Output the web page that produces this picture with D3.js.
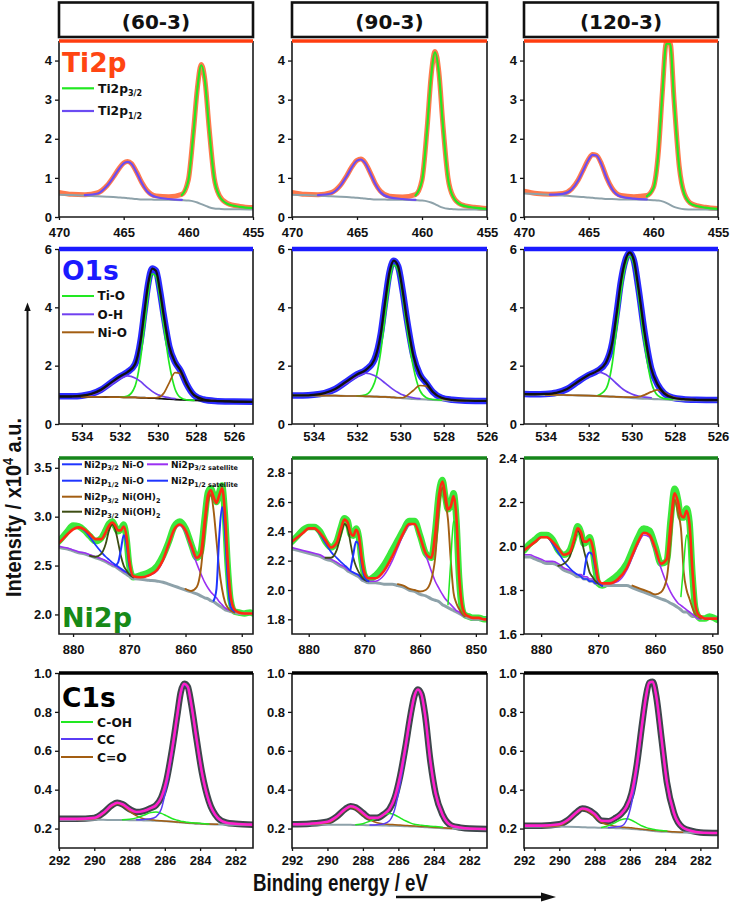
<!DOCTYPE html>
<html><head><meta charset="utf-8">
<script src="https://cdn.jsdelivr.net/npm/d3@7"></script>
<style>body{margin:0;background:#fff}svg{display:block}</style>
</head><body>
<script>
const N = n => Array(n).fill(null);
// ---------- sample names ----------
const SAMPLES = ['(60-3)', '(90-3)', '(120-3)'];
// ---------- axis ranges & ticks ----------
const TI_XRANGE = [470, 455], TI_YRANGE = [0, 4.5];
const TI_XTICKS = [470, 465, 460, 455], TI_YTICKS = [0, 1, 2, 3, 4];
const O60_XRANGE = [535.2, 525], O_XRANGE = [535, 526], O_YRANGE = [0, 6];
const O_XTICKS = [534, 532, 530, 528, 526], O_YTICKS = [0, 2, 4, 6];
const NI60_XRANGE = [882.5, 848], NI90_XRANGE = [883, 848], NI120_XRANGE = [883, 849];
const NI60_YRANGE = [1.8, 3.6], NI90_YRANGE = [1.7, 2.9], NI120_YRANGE = [1.6, 2.4];
const NI_XTICKS = [880, 870, 860, 850];
const NI60_YTICKS = [2.0, 2.5, 3.0, 3.5], NI90_YTICKS = [1.8, 2.0, 2.2, 2.4, 2.6, 2.8], NI120_YTICKS = [1.6, 1.8, 2.0, 2.2, 2.4];
const C_XRANGE = [292, 281], C_YRANGE = [0.1, 1.0];
const C_XTICKS = [292, 290, 288, 286, 284, 282], C_YTICKS = [0.2, 0.4, 0.6, 0.8, 1.0];

// ---------- Ti2p ----------
const TI_E = [470, 469, 468, 467, 466.3, 465.8, 465.4, 465.0, 464.7, 464.4, 464.0, 463.6, 463.2, 462.5, 461.5, 460.5, 460.0, 459.6, 459.3, 459.0, 458.7, 458.4, 458.0, 457.6, 457.0, 456.0, 455.0];
const TI60_DATA = [0.63,0.58,0.57,0.62,0.80,1.02,1.22,1.38,1.42,1.37,1.15,0.88,0.68,0.54,0.52,0.58,0.95,2.2,3.3,3.9,3.45,2.3,1.0,0.55,0.35,0.27,0.24];
const TI60_BG = [0.57,0.56,0.55,0.53,0.52,0.51,0.50,0.49,0.48,0.47,0.46,0.45,0.45,0.44,0.44,0.43,0.42,0.40,0.37,0.33,0.29,0.25,0.22,0.21,0.20,0.20,0.19];
const TI60_P12 = [null,null,0.56,0.60,0.79,1.01,1.21,1.37,1.41,1.36,1.14,0.87,0.66,0.51,0.46,0.44,...N(11)];
const TI60_P32 = [...N(15),0.56,0.93,2.18,3.28,3.88,3.43,2.28,0.99,0.54,0.34,0.26,0.23];
const TI90_DATA = [0.63,0.58,0.57,0.62,0.80,1.05,1.28,1.45,1.48,1.40,1.15,0.86,0.66,0.53,0.51,0.57,0.95,2.3,3.6,4.23,3.7,2.4,1.0,0.52,0.32,0.25,0.22];
const TI90_BG = [0.57,0.56,0.55,0.53,0.52,0.51,0.50,0.49,0.48,0.47,0.46,0.45,0.45,0.44,0.44,0.43,0.42,0.40,0.37,0.33,0.28,0.24,0.21,0.20,0.19,0.19,0.18];
const TI90_P12 = [null,null,0.56,0.60,0.79,1.04,1.27,1.44,1.47,1.39,1.14,0.85,0.64,0.50,0.46,0.44,...N(11)];
const TI90_P32 = [...N(15),0.55,0.93,2.28,3.58,4.21,3.68,2.38,0.99,0.51,0.31,0.24,0.21];
const TI120_DATA = [0.66,0.60,0.58,0.60,0.72,0.95,1.22,1.48,1.60,1.58,1.35,1.0,0.74,0.55,0.52,0.55,0.75,1.7,3.2,4.45,4.45,3.0,1.3,0.6,0.33,0.25,0.22];
const TI120_BG = [0.60,0.59,0.57,0.55,0.53,0.52,0.51,0.50,0.49,0.48,0.47,0.46,0.46,0.45,0.45,0.44,0.43,0.42,0.40,0.36,0.31,0.26,0.22,0.20,0.19,0.19,0.18];
const TI120_P12 = [null,null,0.57,0.59,0.71,0.94,1.21,1.47,1.59,1.57,1.34,0.99,0.72,0.52,0.47,0.45,...N(11)];
const TI120_P32 = [...N(15),0.53,0.73,1.68,3.18,4.43,4.43,2.98,1.28,0.58,0.32,0.24,0.21];

// ---------- O1s ----------
const O_E = [535.2, 534.5, 534, 533.5, 533, 532.5, 532, 531.6, 531.2, 530.9, 530.7, 530.5, 530.3, 530.1, 529.9, 529.7, 529.4, 529.1, 528.8, 528.5, 528.1, 527.6, 527, 526, 525];
const O60_DATA = [0.95,0.95,0.97,1.03,1.17,1.4,1.63,1.78,2.05,2.9,3.9,4.85,5.33,5.25,4.6,3.75,2.65,2.12,1.82,1.38,0.99,0.84,0.79,0.77,0.76];
const O60_BG = [0.94,0.94,0.93,0.93,0.93,0.92,0.92,0.91,0.91,0.9,0.9,0.89,0.89,0.88,0.87,0.86,0.85,0.84,0.83,0.82,0.81,0.8,0.79,0.77,0.76];
const O60_TIO = [...N(6),0.92,0.96,1.3,2.3,3.4,4.5,5.15,5.05,4.35,3.4,2.05,1.2,0.9,0.83,0.81,...N(4)];
const O60_OH = [null,0.94,0.95,1.0,1.12,1.33,1.55,1.65,1.58,1.45,1.33,1.22,1.12,1.04,0.98,0.94,0.9,0.87,...N(7)];
const O60_NIO = [null,null,0.93,0.93,0.93,0.92,0.92,0.91,0.91,0.9,0.9,0.9,0.9,0.9,0.93,1.05,1.42,1.76,1.72,1.35,0.98,0.84,0.8,null,null];
const O90_DATA = [0.98,0.98,1.0,1.06,1.2,1.45,1.7,1.85,2.2,3.1,4.2,5.2,5.6,5.4,4.6,3.6,2.35,1.7,1.4,1.1,0.9,0.83,0.8,0.79,0.78];
const O90_BG = [0.98,0.98,0.98,0.97,0.97,0.96,0.96,0.95,0.94,0.93,0.93,0.92,0.91,0.9,0.89,0.88,0.86,0.85,0.84,0.83,0.82,0.81,0.8,0.79,0.78];
const O90_TIO = [...N(6),0.96,1.0,1.4,2.5,3.7,4.85,5.45,5.25,4.4,3.3,1.95,1.15,0.9,0.84,0.82,...N(4)];
const O90_OH = [null,0.98,0.99,1.04,1.17,1.4,1.62,1.74,1.66,1.52,1.4,1.28,1.17,1.08,1.0,0.95,0.9,0.87,...N(7)];
const O90_NIO = [null,null,0.98,0.97,0.97,0.96,0.96,0.95,0.94,0.93,0.93,0.92,0.91,0.9,0.9,0.97,1.15,1.32,1.3,1.1,0.88,0.82,0.8,null,null];
const O120_DATA = [1.03,1.02,1.03,1.07,1.2,1.45,1.68,1.82,2.1,2.8,3.8,4.9,5.6,5.88,5.6,4.7,3.1,1.9,1.35,1.05,0.9,0.85,0.83,0.82,0.81];
const O120_BG = [1.02,1.01,1.0,1.0,0.99,0.98,0.97,0.96,0.95,0.94,0.93,0.92,0.91,0.9,0.89,0.88,0.87,0.86,0.85,0.84,0.83,0.82,0.82,0.81,0.8];
const O120_TIO = [...N(7),0.97,1.2,2.1,3.3,4.5,5.4,5.75,5.45,4.45,2.7,1.45,0.98,0.87,0.84,...N(4)];
const O120_OH = [null,1.01,1.03,1.07,1.19,1.42,1.65,1.79,1.7,1.52,1.38,1.25,1.14,1.06,1.0,0.96,0.92,0.9,...N(7)];
const O120_NIO = [null,null,1.0,1.0,0.99,0.98,0.97,0.96,0.95,0.94,0.93,0.93,0.92,0.92,0.92,0.93,1.0,1.1,1.17,1.08,0.92,0.85,0.83,null,null];

// ---------- Ni2p ----------
const NI_E = [883,882,881,880,879, 878,877,876,875,874.2, 873.6,873,872.5,872,871.5, 871,870.5,870,869.3,868, 866.5,865,864,863,862, 861,860,859,858,857.3, 856.6,856,855.5,855,854.5, 854,853.5,853,852.5,852, 851.3,850.5,849.5,848.5,848];
const N60_DATA = [2.72,2.78,2.85,2.91,2.90, 2.86,2.80,2.75,2.78,2.86, 2.93,2.95,2.90,2.85,2.87, 2.92,2.78,2.50,2.38,2.40, 2.43,2.50,2.60,2.74,2.90, 2.95,2.88,2.72,2.58,2.64, 2.98,3.25,3.29,3.22,3.15, 3.25,3.32,3.02,2.50,2.15, 2.03,2.02,2.01,2.02,2.01];
const N60_FIT = [2.71,2.76,2.82,2.87,2.89, 2.87,2.82,2.77,2.77,2.84, 2.91,2.94,2.91,2.86,2.86, 2.90,2.80,2.55,2.39,2.38, 2.40,2.46,2.56,2.72,2.87, 2.92,2.86,2.71,2.58,2.62, 2.95,3.22,3.27,3.20,3.14, 3.22,3.29,3.05,2.55,2.20, 2.05,2.02,2.01,2.01,2.01];
const N60_BG = [2.70,2.68,2.67,2.65,2.63, 2.62,2.60,2.58,2.56,2.54, 2.52,2.50,2.49,2.47,2.45, 2.43,2.41,2.39,2.37,2.36, 2.35,2.34,2.33,2.31,2.29, 2.27,2.25,2.23,2.21,2.19, 2.17,2.16,2.14,2.13,2.11, 2.09,2.07,2.05,2.04,2.03, 2.02,2.01,2.01,2.01,2.01];
const N60_SAT32 = [2.71,2.69,2.68,2.66,2.64, 2.63,2.61,2.59,2.57,2.55, 2.53,2.51,2.50,2.48,2.46, 2.44,2.43,2.41,2.39,2.38, 2.40,2.45,2.55,2.71,2.86, 2.91,2.84,2.68,2.52,2.42, 2.33,2.27,2.23,2.20,2.17, 2.13,2.10,2.07,2.05,2.04, ...N(5)];
const N60_SAT12 = [2.71,2.76,2.82,2.87,2.89, 2.86,2.79,2.71,2.64,2.59, 2.56,2.53,2.51,2.49,2.47, 2.45,2.43,2.41,2.38, ...N(26)];
const N60_OH12 = [...N(6), 2.60,2.59,2.62,2.72, 2.86,2.92,2.87,2.74,2.60, 2.50,2.45,2.41,2.38, ...N(26)];
const N60_NIO12 = [...N(12), 2.50,2.53,2.66, 2.81,2.72,2.50,2.39, ...N(26)];
const N60_OH32 = [...N(26), 2.26,2.24,2.28,2.45, 2.85,3.15,3.23,3.06,2.76, 2.46,2.26,2.13,2.07,2.04, 2.02, ...N(4)];
const N60_NIO32 = [...N(33), 2.14,2.26, 2.80,3.10,2.86,2.36,2.08, 2.03, ...N(4)];
const N90_DATA = [2.33,2.37,2.41,2.43,2.43, 2.40,2.33,2.29,2.33,2.43, 2.49,2.47,2.38,2.37,2.42, 2.36,2.20,2.10,2.07,2.10, 2.17,2.27,2.34,2.41,2.47, 2.47,2.37,2.25,2.22,2.40, 2.67,2.75,2.64,2.55,2.58, 2.66,2.48,2.08,1.88,1.83, 1.82,1.81,1.81,1.80,1.80];
const N90_FIT = [2.33,2.36,2.39,2.42,2.42, 2.39,2.34,2.29,2.32,2.42, 2.48,2.46,2.39,2.37,2.41, 2.37,2.22,2.12,2.08,2.08, 2.13,2.23,2.31,2.39,2.45, 2.45,2.36,2.25,2.22,2.38, 2.65,2.74,2.65,2.55,2.57, 2.64,2.50,2.10,1.90,1.84, 1.82,1.81,1.81,1.80,1.80];
const N90_BG = [2.28,2.27,2.26,2.25,2.24, 2.23,2.21,2.20,2.18,2.16, 2.15,2.13,2.12,2.11,2.10, 2.09,2.07,2.06,2.05,2.05, 2.04,2.04,2.03,2.02,2.00, 1.99,1.97,1.96,1.94,1.93, 1.92,1.90,1.89,1.88,1.87, 1.86,1.85,1.84,1.83,1.82, 1.81,1.80,1.80,1.80,1.80];
const N90_SAT32 = [2.29,2.28,2.27,2.26,2.25, 2.24,2.22,2.21,2.19,2.17, 2.16,2.14,2.13,2.12,2.11, 2.10,2.08,2.07,2.06,2.06, 2.10,2.20,2.29,2.38,2.44, 2.45,2.36,2.24,2.13,2.06, 2.01,1.97,1.94,1.92,1.90, 1.88,1.86,1.85,1.83,1.82, ...N(5)];
const N90_SAT12 = [2.33,2.36,2.39,2.42,2.42, 2.38,2.32,2.26,2.22,2.19, 2.17,2.15,2.13,2.12,2.11, 2.10,2.08,2.07,2.06, ...N(26)];
const N90_OH12 = [...N(6), 2.22,2.22,2.27,2.38, 2.45,2.42,2.32,2.22,2.16, 2.12,2.09,2.07,2.06, ...N(26)];
const N90_NIO12 = [...N(12), 2.14,2.24,2.33, 2.31,2.18,2.09,2.06, ...N(26)];
const N90_OH32 = [...N(22), 2.04,2.03,2.01, 2.00,1.99,2.00,2.07,2.22, 2.56,2.70,2.60,2.48,2.20, 1.98,1.91,1.87,1.84,1.82, ...N(5)];
const N90_NIO32 = [...N(33), 1.90,2.20, 2.47,2.40,2.05,1.87,1.83, ...N(5)];
const N120_DATA = [1.98,2.01,2.03,2.05,2.05, 2.03,1.98,1.96,1.98,2.04, 2.09,2.06,2.01,2.02,2.04, 1.99,1.90,1.83,1.82,1.84, 1.87,1.92,1.98,2.04,2.08, 2.07,2.00,1.92,1.93,2.12, 2.26,2.21,2.13,2.13,2.17, 2.11,1.88,1.72,1.68,1.67, 1.67,1.68,1.67,1.66,1.67];
const N120_FIT = [1.98,2.00,2.02,2.04,2.04, 2.02,1.99,1.96,1.97,2.03, 2.08,2.06,2.02,2.02,2.03, 2.00,1.92,1.85,1.83,1.83, 1.85,1.90,1.96,2.02,2.06, 2.05,1.99,1.92,1.94,2.10, 2.24,2.20,2.14,2.13,2.16, 2.10,1.90,1.74,1.69,1.68, 1.67,1.67,1.67,1.67,1.67];
const N120_BG = [1.95,1.95,1.94,1.93,1.92, 1.92,1.91,1.89,1.88,1.87, 1.86,1.86,1.85,1.85,1.84, 1.84,1.83,1.83,1.82,1.82, 1.82,1.82,1.81,1.80,1.79, 1.78,1.77,1.76,1.75,1.74, 1.73,1.72,1.71,1.70,1.70, 1.69,1.68,1.68,1.67,1.67, 1.67,1.67,1.67,1.67,1.67];
const N120_SAT32 = [1.96,1.96,1.95,1.94,1.93, 1.93,1.92,1.90,1.89,1.88, 1.87,1.87,1.86,1.86,1.85, 1.85,1.84,1.84,1.83,1.83, 1.84,1.89,1.95,2.01,2.05, 2.04,1.98,1.90,1.83,1.79, 1.76,1.74,1.73,1.72,1.71, 1.70,1.69,1.68,1.67,1.67, ...N(5)];
const N120_SAT12 = [1.98,2.00,2.02,2.04,2.04, 2.01,1.97,1.93,1.90,1.88, 1.87,1.86,1.85,1.85,1.84, 1.84,1.83,1.83,1.82, ...N(26)];
const N120_OH12 = [...N(6), 1.91,1.92,1.95,2.02, 2.07,2.04,1.98,1.93,1.88, 1.86,1.84,1.83,1.82, ...N(26)];
const N120_NIO12 = [...N(12), 1.87,1.95,1.97, 1.96,1.90,1.84,1.82, ...N(26)];
const N120_OH32 = [...N(22), 1.82,1.81,1.80, 1.79,1.78,1.79,1.85,2.02, 2.21,2.15,2.08,1.88,1.80, 1.76,1.72,1.69,1.68,1.67, ...N(5)];
const N120_NIO32 = [...N(32), 1.77,1.92,2.05, 2.00,1.85,1.72,1.68, ...N(6)];

// ---------- C1s ----------
const C_E = [292, 291, 290, 289.5, 289, 288.7, 288.4, 288, 287.6, 287.2, 286.8, 286.5, 286.2, 285.9, 285.6, 285.3, 285.1, 284.9, 284.7, 284.5, 284.2, 283.9, 283.5, 283, 282.5, 282, 281];
const C60_DATA = [0.25,0.25,0.255,0.28,0.32,0.333,0.325,0.30,0.285,0.29,0.305,0.32,0.36,0.45,0.6,0.78,0.9,0.945,0.93,0.84,0.66,0.49,0.34,0.255,0.23,0.225,0.22];
const C60_BG = [0.245,0.245,0.245,0.245,0.244,0.244,0.244,0.243,0.243,0.242,0.241,0.24,0.239,0.237,0.235,0.233,0.231,0.23,0.228,0.227,0.225,0.224,0.222,0.221,0.22,0.22,0.22];
const C60_CO = [null,0.246,0.25,0.275,0.315,0.328,0.32,0.29,0.265,0.25,0.245,0.242,0.24,0.238,0.236,0.234,0.232,0.231,0.229,0.228,0.226,0.225,0.223,0.222,null,null,null];
const C60_COH = [...N(6),0.245,0.248,0.255,0.268,0.282,0.285,0.278,0.265,0.252,0.243,0.238,0.235,0.232,0.23,0.228,0.226,0.224,...N(4)];
const C60_CC = [...N(8),0.245,0.247,0.25,0.26,0.3,0.42,0.58,0.77,0.89,0.94,0.925,0.835,0.655,0.485,0.335,0.252,0.228,0.223,null];
const C90_DATA = [0.222,0.225,0.235,0.26,0.3,0.315,0.308,0.28,0.255,0.255,0.275,0.3,0.36,0.47,0.62,0.79,0.88,0.915,0.89,0.79,0.55,0.38,0.27,0.215,0.205,0.2,0.198];
const C90_BG = [0.222,0.221,0.22,0.22,0.219,0.219,0.218,0.218,0.217,0.217,0.216,0.215,0.214,0.213,0.212,0.211,0.21,0.209,0.208,0.207,0.205,0.204,0.202,0.2,0.199,0.198,0.197];
const C90_CO = [null,0.222,0.228,0.255,0.295,0.31,0.3,0.27,0.245,0.23,0.224,0.221,0.22,0.218,0.216,0.214,0.213,0.212,0.211,0.21,0.208,0.206,0.204,0.2,null,null,null];
const C90_COH = [...N(6),0.22,0.225,0.238,0.255,0.272,0.278,0.27,0.255,0.24,0.228,0.222,0.219,0.217,0.215,0.212,0.21,0.207,...N(4)];
const C90_CC = [...N(8),0.218,0.22,0.225,0.24,0.3,0.43,0.6,0.78,0.875,0.912,0.888,0.788,0.548,0.378,0.268,0.214,0.204,0.2,null];
const C120_DATA = [0.215,0.215,0.222,0.245,0.285,0.303,0.298,0.275,0.24,0.238,0.255,0.275,0.31,0.38,0.53,0.74,0.87,0.95,0.955,0.88,0.66,0.44,0.28,0.205,0.188,0.18,0.177];
const C120_BG = [0.21,0.21,0.21,0.209,0.208,0.207,0.206,0.205,0.204,0.203,0.202,0.201,0.2,0.198,0.196,0.194,0.192,0.19,0.188,0.186,0.184,0.183,0.181,0.18,0.179,0.178,0.177];
const C120_CO = [null,0.21,0.215,0.24,0.28,0.298,0.29,0.262,0.232,0.218,0.212,0.208,0.206,0.204,0.2,0.197,0.195,0.193,0.191,0.19,0.188,0.186,0.183,0.181,null,null,null];
const C120_COH = [...N(8),0.206,0.215,0.232,0.245,0.25,0.243,0.228,0.213,0.206,0.2,0.196,0.193,0.19,0.188,...N(5)];
const C120_CC = [...N(9),0.205,0.208,0.212,0.24,0.33,0.5,0.73,0.865,0.947,0.952,0.878,0.658,0.438,0.278,0.204,0.187,0.18,null];

// ================= drawing =================
const W = 730, H = 902;
const svg = d3.select('body').append('svg').attr('width', W).attr('height', H);
const defs = svg.append('defs');
const TICKFONT = "'Liberation Sans', Arial, sans-serif";
const TFONT = "'DejaVu Sans', Verdana, sans-serif";
const COLS = [{x0: 59, x1: 253}, {x0: 292, x1: 487}, {x0: 524, x1: 718}];
const ROWS = {
  ti: {top: 41, bottom: 217, pad: 7.3, topColor: '#ff3d0f', topW: 3.4},
  o:  {top: 249, bottom: 424, pad: 4.8, topColor: '#1a1aff', topW: 4.6},
  ni: {top: 458, bottom: 634, pad: 7.3, topColor: '#15861a', topW: 3.4},
  c:  {top: 673, bottom: 848, pad: 4.8, topColor: '#000000', topW: 3.4}
};
const COL = {
  tiData: '#ff6a38', bg: '#8ea2aa', green: '#22e822', tiPurple: '#6b4cf2',
  oData: '#2a2aff', fitK: '#111111', ohPurple: '#7040f0', brown: '#a35e12',
  niData: '#3be83b', niFit: '#ff2a12', sat32: '#9b30f2', blue: '#1f35ff', olive: '#3d4d14',
  cData: '#3e474c', cFit: '#ff20cc', ccPurple: '#5a3cf5'
};
let clipN = 0;
function panel(col, row, E, xDom, yDom, xTicks, yTicks, yFmt, series) {
  const r = ROWS[row];
  const x = d3.scaleLinear().domain(xDom).range([col.x0, col.x1]);
  const y = d3.scaleLinear().domain(yDom).range([r.bottom, r.top]);
  const id = 'clp' + (clipN++);
  defs.append('clipPath').attr('id', id).append('rect')
    .attr('x', col.x0).attr('y', r.top).attr('width', col.x1 - col.x0).attr('height', r.bottom - r.top);
  const g = svg.append('g');
  const pg = g.append('g').attr('clip-path', `url(#${id})`);
  const line = d3.line().defined(d => d[1] != null).x(d => x(d[0])).y(d => y(d[1])).curve(d3.curveMonotoneX);
  series.forEach(s => {
    pg.append('path').attr('d', line(E.map((e, i) => [e, s.v[i]])))
      .attr('fill', 'none').attr('stroke', s.c).attr('stroke-width', s.w)
      .attr('stroke-linejoin', 'round').attr('stroke-linecap', 'round').attr('opacity', s.o || 1);
  });
  const ya = g.append('g').attr('transform', `translate(${col.x0},0)`)
    .call(d3.axisLeft(y).tickValues(yTicks).tickSize(4).tickPadding(3).tickFormat(yFmt));
  const xa = g.append('g').attr('transform', `translate(0,${r.bottom})`)
    .call(d3.axisBottom(x).tickValues(xTicks).tickSize(3).tickPadding(r.pad).tickFormat(d3.format('d')));
  [ya, xa].forEach(a => {
    a.select('.domain').remove();
    a.selectAll('line').attr('stroke', '#111').attr('stroke-width', 1.3);
    a.selectAll('text').attr('font-family', TICKFONT).attr('font-size', 13).attr('font-weight', 'bold').attr('fill', '#111');
  });
  g.append('path').attr('d', `M${col.x0},${r.top}V${r.bottom}H${col.x1}V${r.top}`)
    .attr('fill', 'none').attr('stroke', '#1a1a1a').attr('stroke-width', 1.6);
  g.append('line').attr('x1', col.x0).attr('x2', col.x1).attr('y1', r.top).attr('y2', r.top)
    .attr('stroke', r.topColor).attr('stroke-width', r.topW);
}

// header boxes
SAMPLES.forEach((s, i) => {
  const c = COLS[i];
  svg.append('rect').attr('x', c.x0).attr('y', 2.5).attr('width', c.x1 - c.x0).attr('height', 34.5)
    .attr('fill', '#fff').attr('stroke', '#111').attr('stroke-width', 2.6);
  svg.append('text').attr('x', (c.x0 + c.x1) / 2).attr('y', 29).attr('text-anchor', 'middle')
    .attr('font-family', TFONT).attr('font-weight', 'bold').attr('font-size', 20).attr('fill', '#111').text(s);
});

const f0 = d3.format('d'), f1 = d3.format('.1f');
// Ti2p row
const tiSets = [[TI60_DATA, TI60_BG, TI60_P12, TI60_P32], [TI90_DATA, TI90_BG, TI90_P12, TI90_P32], [TI120_DATA, TI120_BG, TI120_P12, TI120_P32]];
tiSets.forEach((s, i) => panel(COLS[i], 'ti', TI_E, TI_XRANGE, TI_YRANGE, TI_XTICKS, TI_YTICKS, f0, [
  {v: s[0], c: COL.tiData, w: 5, o: 0.9}, {v: s[1], c: COL.bg, w: 2}, {v: s[2], c: COL.tiPurple, w: 2.2}, {v: s[3], c: COL.green, w: 2.2}]));
// O1s row
const oSets = [[O60_DATA, O60_BG, O60_TIO, O60_OH, O60_NIO], [O90_DATA, O90_BG, O90_TIO, O90_OH, O90_NIO], [O120_DATA, O120_BG, O120_TIO, O120_OH, O120_NIO]];
const oX = [O60_XRANGE, O_XRANGE, O_XRANGE];
oSets.forEach((s, i) => panel(COLS[i], 'o', O_E, oX[i], O_YRANGE, O_XTICKS, O_YTICKS, f0, [
  {v: s[0], c: COL.oData, w: 6.5}, {v: s[1], c: i === 0 ? COL.fitK : COL.bg, w: i === 0 ? 1.8 : 2.2},
  {v: s[2], c: COL.green, w: 1.7}, {v: s[3], c: COL.ohPurple, w: 1.7}, {v: s[4], c: COL.brown, w: 1.7},
  {v: s[0], c: COL.fitK, w: 2.3}]));
// Ni2p row
const niSets = [
  [N60_DATA, N60_BG, N60_SAT32, N60_SAT12, N60_OH12, N60_NIO12, N60_OH32, N60_NIO32, N60_FIT],
  [N90_DATA, N90_BG, N90_SAT32, N90_SAT12, N90_OH12, N90_NIO12, N90_OH32, N90_NIO32, N90_FIT],
  [N120_DATA, N120_BG, N120_SAT32, N120_SAT12, N120_OH12, N120_NIO12, N120_OH32, N120_NIO32, N120_FIT]];
const niX = [NI60_XRANGE, NI90_XRANGE, NI120_XRANGE], niY = [NI60_YRANGE, NI90_YRANGE, NI120_YRANGE];
const niYT = [NI60_YTICKS, NI90_YTICKS, NI120_YTICKS];
niSets.forEach((s, i) => panel(COLS[i], 'ni', NI_E, niX[i], niY[i], NI_XTICKS, niYT[i], f1, [
  {v: s[0], c: COL.niData, w: 6.5}, {v: s[1], c: COL.bg, w: 3}, {v: s[2], c: COL.sat32, w: 1.6},
  {v: s[3], c: COL.blue, w: 1.7}, {v: s[4], c: COL.olive, w: 1.8}, {v: s[5], c: COL.blue, w: 2},
  {v: s[6], c: COL.brown, w: 1.9}, {v: s[7], c: i === 0 ? COL.blue : COL.green, w: i === 0 ? 2 : 1.5},
  {v: s[8], c: COL.niFit, w: 2.6}]));
// C1s row
const cSets = [[C60_DATA, C60_BG, C60_CO, C60_COH, C60_CC], [C90_DATA, C90_BG, C90_CO, C90_COH, C90_CC], [C120_DATA, C120_BG, C120_CO, C120_COH, C120_CC]];
cSets.forEach((s, i) => panel(COLS[i], 'c', C_E, C_XRANGE, C_YRANGE, C_XTICKS, C_YTICKS, f1, [
  {v: s[0], c: COL.cData, w: 6.5}, {v: s[1], c: COL.bg, w: 2}, {v: s[2], c: COL.brown, w: 1.5},
  {v: s[3], c: COL.green, w: 1.5}, {v: s[4], c: COL.ccPurple, w: 1.5}, {v: s[0], c: COL.cFit, w: 2.6}]));

// ---------- titles and legends ----------
function title(x, y, txt, color, size) {
  svg.append('text').attr('x', x).attr('y', y).attr('font-family', TFONT).attr('font-weight', 'bold')
    .attr('font-size', size).attr('fill', color).text(txt);
}
function rich(x, y, parts, size, sub, fill) {
  const t = svg.append('text').attr('x', x).attr('y', y).attr('font-family', TFONT).attr('font-weight', 'bold')
    .attr('font-size', size).attr('fill', fill).style('white-space', 'pre');
  let cur = 0;
  parts.forEach(([txt, k]) => {
    const off = k === 's' ? size * 0.3 : 0;
    t.append('tspan').attr('dy', off - cur).attr('font-size', k === 's' ? sub : size).text(txt);
    cur = off;
  });
}
function legLine(x1, x2, y, color, w) {
  svg.append('line').attr('x1', x1).attr('x2', x2).attr('y1', y).attr('y2', y).attr('stroke', color).attr('stroke-width', w || 2);
}
title(62, 71.5, 'Ti2p', '#ff4512', 26.5);
legLine(62, 94, 88.3, COL.green, 2.2); rich(98, 92.5, [['Ti2p', 'n'], ['3/2', 's']], 12.3, 8, '#111');
legLine(62, 94, 111, COL.tiPurple, 2.2); rich(98, 115.2, [['Ti2p', 'n'], ['1/2', 's']], 12.3, 8, '#111');

title(62, 280, 'O1s', '#1a1aff', 26.5);
[['Ti-O', COL.green, 296], ['O-H', COL.ohPurple, 314.3], ['Ni-O', COL.brown, 332.3]].forEach(([t, c, yy]) => {
  legLine(62, 94, yy, c, 2); rich(97.5, yy + 4.3, [[t, 'n']], 12, 8, '#111');
});

title(62, 627, 'Ni2p', '#178a17', 27);
const niLeg = [
  [62, 82, 84, 464.3, COL.blue, [['Ni2p', 'n'], ['3/2', 's'], [' Ni-O', 'n']]],
  [62, 82, 84, 480.7, COL.blue, [['Ni2p', 'n'], ['1/2', 's'], [' Ni-O', 'n']]],
  [62, 82, 84, 496.7, COL.brown, [['Ni2p', 'n'], ['3/2', 's'], [' Ni(OH)', 'n'], ['2', 's']]],
  [62, 82, 84, 511.7, COL.olive, [['Ni2p', 'n'], ['3/2', 's'], [' Ni(OH)', 'n'], ['2', 's']]],
  [147, 168, 171, 464.3, COL.sat32, [['Ni2p', 'n'], ['3/2', 's'], [' satellite', 's']]],
  [147, 168, 171, 480.7, COL.blue, [['Ni2p', 'n'], ['1/2', 's'], [' satellite', 's']]]
];
niLeg.forEach(([a, b, tx, yy, c, parts]) => { legLine(a, b, yy, c, 2); rich(tx, yy + 3.3, parts, 9, 6.5, '#111'); });

title(62, 706.5, 'C1s', '#000', 26.5);
[['C-OH', COL.green, 722], ['CC', COL.ccPurple, 739], ['C=O', COL.brown, 757]].forEach(([t, c, yy]) => {
  legLine(61, 93, yy, c, 2); rich(97, yy + 4.5, [[t, 'n']], 12.3, 8, '#111');
});

// ---------- axis titles & arrows ----------
const yl = svg.append('text').attr('transform', 'translate(20.5,507.5) rotate(-90)').attr('text-anchor', 'middle')
  .attr('font-family', TICKFONT).attr('font-weight', 'bold').attr('font-size', 22).attr('fill', '#111')
  .attr('textLength', 179).attr('lengthAdjust', 'spacingAndGlyphs').style('white-space', 'pre');
yl.append('tspan').text('Intensity / x10');
yl.append('tspan').attr('dy', -8).attr('font-size', 14).text('4');
yl.append('tspan').attr('dy', 8).text(' a.u.');
svg.append('text').attr('x', 340.5).attr('y', 890.5).attr('text-anchor', 'middle')
  .attr('font-family', TICKFONT).attr('font-weight', 'bold').attr('font-size', 23).attr('fill', '#111')
  .attr('textLength', 175).attr('lengthAdjust', 'spacingAndGlyphs').text('Binding energy / eV');
svg.append('line').attr('x1', 396).attr('x2', 543).attr('y1', 897).attr('y2', 897).attr('stroke', '#111').attr('stroke-width', 2.7);
svg.append('path').attr('d', 'M541,892.6L556,897L541,901.4Z').attr('fill', '#111');
svg.append('line').attr('x1', 27.5).attr('x2', 27.5).attr('y1', 475).attr('y2', 309).attr('stroke', '#111').attr('stroke-width', 2);
svg.append('path').attr('d', 'M24.3,311L27.5,302.5L30.7,311Z').attr('fill', '#111');
</script>
</body></html>
